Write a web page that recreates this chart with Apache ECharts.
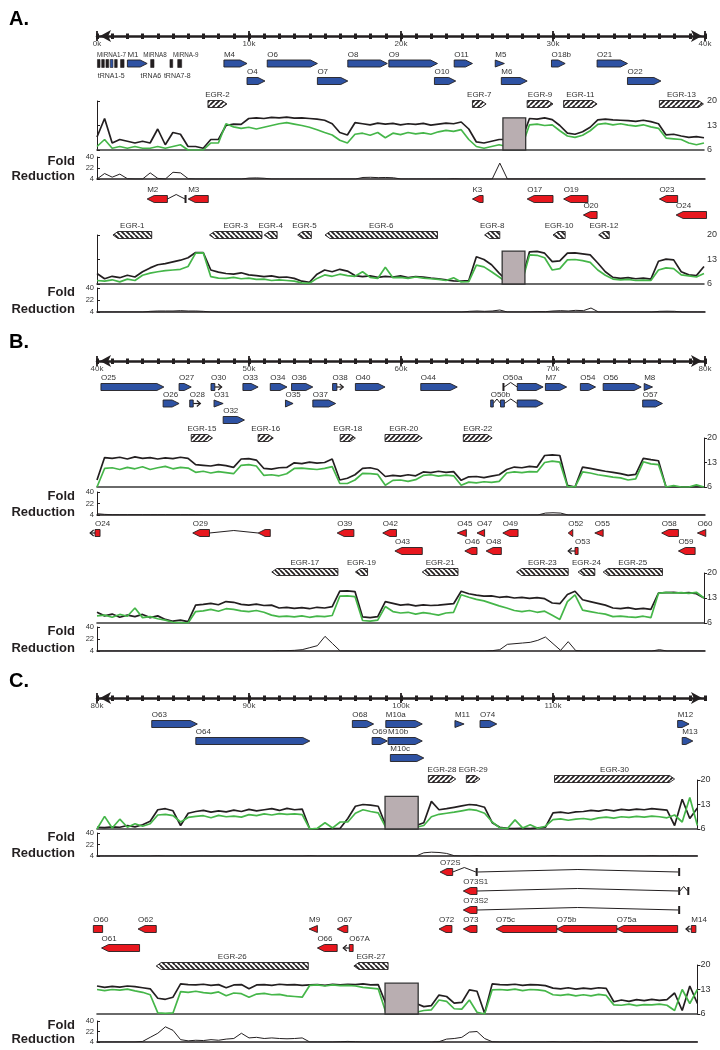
<!DOCTYPE html>
<html>
<head>
<meta charset="utf-8">
<script src="https://cdn.jsdelivr.net/npm/echarts/dist/echarts.min.js"></script>
<style>
  html, body { margin: 0; padding: 0; background: #fff; }
  #main { width: 720px; height: 1050px; }
</style>
</head>
<body>
<div id="main"></div>
<script>
// ---------------- data ----------------
const BIN = 500;                    // coverage bin size (bp)
const covTicks = [6, 13, 20];
const foldTicks = [4, 22, 40];
const ticksA = [0, 10000, 20000, 30000, 40000];
const ticksB = [40000, 50000, 60000, 70000, 80000];
const ticksC = [80000, 90000, 100000, 110000];

// forward strand ORFs  (n = name, l = lane, x = exons, lead = promoter arrow end, cut = truncated)
const genesA_fwd = [
  { n: 'M1', l: 0, x: [[2000, 3300]] },
  { n: 'M4', l: 0, x: [[8350, 9870]] },
  { n: 'O6', l: 0, x: [[11200, 14500]] },
  { n: 'O8', l: 0, x: [[16500, 19100]] },
  { n: 'O9', l: 0, x: [[19200, 22400]] },
  { n: 'O11', l: 0, x: [[23500, 24700]] },
  { n: 'M5', l: 0, x: [[26200, 26800]] },
  { n: 'O18b', l: 0, x: [[29900, 30800]] },
  { n: 'O21', l: 0, x: [[32900, 34900]] },
  { n: 'O4', l: 1, x: [[9870, 11050]] },
  { n: 'O7', l: 1, x: [[14500, 16500]] },
  { n: 'O10', l: 1, x: [[22200, 23600]] },
  { n: 'M6', l: 1, x: [[26600, 28300]] },
  { n: 'O22', l: 1, x: [[34900, 37100]] }
];
// small RNA genes (t = tRNA, m = miRNA)
const rnaA = [[30, 200, 't'], [310, 480, 't'], [590, 770, 't'], [870, 1050, 'm'], [1160, 1330, 't'],
  [1550, 1780, 't'], [3530, 3750, 't'], [4800, 4980, 't'], [5310, 5570, 't']];
const rnaLabelsA = [['MiRNA1-7', 0, 1], ['MiRNA8', 3050, 1], ['MiRNA-9', 5000, 1],
  ['tRNA1-5', 50, -1], ['tRNA6', 2870, -1], ['tRNA7-8', 4400, -1]];

const genesA_rev = [
  { n: 'M2', l: 0, x: [[3300, 4630], [5790, 5860]] },
  { n: 'M3', l: 0, x: [[6000, 7320]] },
  { n: 'K3', l: 0, x: [[24700, 25400]] },
  { n: 'O17', l: 0, x: [[28300, 30000]] },
  { n: 'O19', l: 0, x: [[30700, 32300]] },
  { n: 'O23', l: 0, x: [[37000, 38200]] },
  { n: 'O20', l: 1, x: [[32000, 32900]] },
  { n: 'O24', l: 1, x: [[38100, 40100]] }
];
const genesB_fwd = [
  { n: 'O25', l: 0, x: [[40260, 44400]] },
  { n: 'O27', l: 0, x: [[45400, 46200]] },
  { n: 'O30', l: 0, x: [[47500, 47750]], lead: 48200 },
  { n: 'O33', l: 0, x: [[49600, 50600]] },
  { n: 'O34', l: 0, x: [[51400, 52500]] },
  { n: 'O36', l: 0, x: [[52800, 54200]] },
  { n: 'O38', l: 0, x: [[55500, 55780]], lead: 56200 },
  { n: 'O40', l: 0, x: [[57000, 58950]] },
  { n: 'O44', l: 0, x: [[61300, 63700]] },
  { n: 'O50a', l: 0, x: [[66700, 66780], [67650, 69350]] },
  { n: 'M7', l: 0, x: [[69500, 70900]] },
  { n: 'O54', l: 0, x: [[71800, 72800]] },
  { n: 'O56', l: 0, x: [[73300, 75800]] },
  { n: 'M8', l: 0, x: [[76000, 76550]] },
  { n: 'O26', l: 1, x: [[44350, 45400]] },
  { n: 'O28', l: 1, x: [[46100, 46330]], lead: 46800 },
  { n: 'O31', l: 1, x: [[47700, 48300]] },
  { n: 'O35', l: 1, x: [[52400, 52900]] },
  { n: 'O37', l: 1, x: [[54200, 55700]] },
  { n: 'O50b', l: 1, x: [[65900, 66070], [66550, 66800], [67650, 69350]] },
  { n: 'O57', l: 1, x: [[75900, 77200]] },
  { n: 'O32', l: 2, x: [[48300, 49700]] }
];
const genesB_rev = [
  { n: 'O24', l: 0, x: [[39870, 40200]], lead: 39550 },
  { n: 'O29', l: 0, x: [[46300, 47400], [50600, 51400]] },
  { n: 'O39', l: 0, x: [[55800, 56900]] },
  { n: 'O42', l: 0, x: [[58800, 59700]] },
  { n: 'O45', l: 0, x: [[63700, 64300]] },
  { n: 'O47', l: 0, x: [[65000, 65500]] },
  { n: 'O49', l: 0, x: [[66700, 67700]] },
  { n: 'O52', l: 0, x: [[71000, 71300]] },
  { n: 'O55', l: 0, x: [[72750, 73300]] },
  { n: 'O58', l: 0, x: [[77150, 78250]] },
  { n: 'O60', l: 0, x: [[79500, 80050]] },
  { n: 'O43', l: 1, x: [[59600, 61400]] },
  { n: 'O46', l: 1, x: [[64200, 65000]] },
  { n: 'O48', l: 1, x: [[65600, 66600]] },
  { n: 'O53', l: 1, x: [[71450, 71650]], lead: 71000 },
  { n: 'O59', l: 1, x: [[78250, 79350]] }
];
const genesC_fwd = [
  { n: 'O63', l: 0, x: [[83600, 86600]] },
  { n: 'O68', l: 0, x: [[96800, 98200]] },
  { n: 'M10a', l: 0, x: [[99000, 101400]] },
  { n: 'M11', l: 0, x: [[103550, 104150]] },
  { n: 'O74', l: 0, x: [[105200, 106300]] },
  { n: 'M12', l: 0, x: [[118200, 118950]] },
  { n: 'O64', l: 1, x: [[86500, 94000]] },
  { n: 'O69', l: 1, x: [[98100, 99100]] },
  { n: 'M10b', l: 1, x: [[99150, 101400]] },
  { n: 'M13', l: 1, x: [[118500, 119200]] },
  { n: 'M10c', l: 2, x: [[99300, 101500]] }
];
const genesC_rev = [
  { n: 'O72S', l: 0, x: [[102570, 103400], [104930, 105030], [118250, 118350]] },
  { n: 'O73S1', l: 1, x: [[104100, 105000], [118250, 118350], [118850, 118950]] },
  { n: 'O73S2', l: 2, x: [[104100, 105000], [118250, 118350]] },
  { n: 'O60', l: 3, x: [[79760, 80370]], cut: 1 },
  { n: 'O62', l: 3, x: [[82700, 83900]] },
  { n: 'M9', l: 3, x: [[93950, 94500]] },
  { n: 'O67', l: 3, x: [[95800, 96500]] },
  { n: 'O72', l: 3, x: [[102500, 103350]] },
  { n: 'O73', l: 3, x: [[104100, 105000]] },
  { n: 'O75c', l: 3, x: [[106250, 110250]] },
  { n: 'O75b', l: 3, x: [[110250, 114200]] },
  { n: 'O75a', l: 3, x: [[114200, 118200]] },
  { n: 'M14', l: 3, x: [[119100, 119400]], lead: 118750 },
  { n: 'O61', l: 4, x: [[80300, 82800]] },
  { n: 'O66', l: 4, x: [[94500, 95800]] },
  { n: 'O67A', l: 4, x: [[96600, 96850]], lead: 96200 }
];

// early growth regions
const egrA_fwd = [['EGR-2', 7300, 8550], ['EGR-7', 24700, 25600], ['EGR-9', 28300, 30000], ['EGR-11', 30700, 32900], ['EGR-13', 37000, 39900]];
const egrA_rev = [['EGR-1', 1050, 3600], ['EGR-3', 7400, 10850], ['EGR-4', 11000, 11850], ['EGR-5', 13200, 14100],
  ['EGR-6', 15000, 22400], ['EGR-8', 25500, 26500], ['EGR-10', 30000, 30800], ['EGR-12', 33000, 33700]];
const egrB_fwd = [['EGR-15', 46200, 47600], ['EGR-16', 50600, 51600], ['EGR-18', 56000, 57000], ['EGR-20', 58950, 61400], ['EGR-22', 64100, 66000]];
const egrB_rev = [['EGR-17', 51500, 55850], ['EGR-19', 57000, 57800], ['EGR-21', 61400, 63750], ['EGR-23', 67600, 71000],
  ['EGR-24', 71650, 72750], ['EGR-25', 73300, 77200]];
const egrC_fwd = [['EGR-28', 101800, 103600], ['EGR-29', 104300, 105200], ['EGR-30', 110100, 118000]];
const egrC_rev = [['EGR-26', 83900, 93900], ['EGR-27', 96900, 99150]];

// masked repeat regions [start, end, height]
const maskA_fwd = [26750, 28250, 15.2];
const maskA_rev = [26700, 28200, 15.4];
const maskC_fwd = [98950, 101130, 15.3];
const maskC_rev = [98950, 101130, 14.8];

// coverage (k = black, g = green), one value per 500 bp
const covA_fwd_k = [
  9.7, 15, 8, 9, 8.5, 8, 8.5, 8, 12, 7.5,
  11, 10.5, 7, 7, 6.5, 9, 9, 13, 13.4, 13.3,
  15, 15.2, 15, 15.3, 15.2, 15.4, 15.1, 15.2, 15, 14.8,
  14.5, 13.5, 11, 10.3, 13.8, 13.5, 13.2, 13.7, 13.4, 13.6,
  13.2, 13.5, 13.3, 13.6, 13.1, 13.4, 13.7, 13.5, 14, 12,
  8.3, 8, 8.5, 9, 9, 9, 9, 15, 14.8, 15.2,
  14.7, 13, 10.8, 10.5, 11.2, 12.5, 14.6, 14.8, 14.6, 14.5,
  14.4, 14.2, 14.5, 14.1, 13.5, 10.3, 10.5, 10, 9.6, 9.8,
  9.5];
const covA_fwd_g = [
  7, 9, 6.5, 7, 6.5, 7, 6.5, 6.5, 7, 6.5,
  7, 7.5, 6, 6, 6, 8, 8, 13.5, 12.6, 12.2,
  12.5, 12, 12.5, 13, 13.5, 13.8, 13.4, 13, 12.5, 11.8,
  11, 10.3, 8.8, 8, 10.5, 10.8, 10.2, 11, 9.5, 10.8,
  10.4, 11, 10.6, 10.9, 10.5, 11.2, 11.6, 11.3, 11.8, 9,
  7, 6.5, 7, 7.5, 7, 7, 7, 13.2, 13.4, 13,
  13.2, 11.5, 10, 9.6, 10.2, 11.5, 13.3, 13.6, 13.2, 13.5,
  13.1, 12.8, 13.2, 12.6, 12.2, 9.4, 9.2, 9, 8, 7.5,
  8];
const foldA_fwd = [
  4, 13, 7, 12, 4.5, 4, 4, 14, 5, 4,
  15, 14, 4.5, 4, 4, 4, 4, 4, 4, 4,
  5.5, 5.8, 5.2, 4, 4, 4, 4, 4, 4, 4,
  4, 4, 4, 4, 4, 6.5, 6.8, 6.2, 6.5, 6,
  4, 4, 4, 4, 4, 4, 4, 4.5, 4, 4,
  4, 4, 4, 30, 4, 4, 4, 4, 4, 4,
  4, 4, 4, 4, 4, 4, 4, 4, 4, 4,
  4, 4, 4, 4, 4, 4, 4, 4, 4, 4,
  4];
const covA_rev_k = [
  9, 7.5, 8.2, 7.8, 8.5, 8, 9.5, 10.6, 11.5, 11.8,
  12.3, 12.8, 13.5, 15, 15, 10, 9.4, 9, 8.8, 9.2,
  8.6, 8.4, 8.1, 8.3, 7.9, 8, 7.6, 6.8, 6.5, 8.8,
  10, 9.5, 10.2, 9.7, 8.4, 8.1, 8.3, 7.9, 8.2, 8,
  8.3, 7.8, 8.1, 8, 7.7, 7.5, 7.2, 6.9, 6.8, 7,
  13.8, 13, 11.5, 9.1, 7, 7, 7, 15.2, 15.3, 14.8,
  12.4, 12.6, 14.8, 14.9, 14.6, 14.3, 12, 9.5, 7.9, 7.6,
  7.8, 7.5, 7.7, 7.4, 12.5, 13.1, 12.9, 9.5, 8.6, 8.4,
  11];
const covA_rev_g = [
  7, 6.8, 7.2, 6.6, 7.4, 7, 8.5, 9.1, 9.5, 9.8,
  10, 10.2, 11, 14.8, 14.9, 8.1, 7.7, 7.6, 7.9, 7.5,
  7.7, 7.3, 7.4, 7, 7.2, 7, 6.8, 6.3, 6.2, 7.6,
  8.6, 8.2, 8.8, 8.4, 8.2, 9.5, 7.9, 7.6, 10.8, 7.8,
  7.9, 7.6, 8, 7.7, 7.5, 7.3, 7, 7.8, 6.6, 6.7,
  11.4, 10.9, 9.5, 8, 6.5, 6.5, 6.5, 14.3, 14.2, 13.5,
  10, 10.4, 12.9, 13, 12.7, 12.2, 10, 8.5, 7.4, 7.2,
  7.3, 7, 7.1, 7, 10, 10.6, 10.4, 8.6, 8.3, 8,
  9];
const foldA_rev = [
  4, 4, 4, 4, 4, 4, 4, 5, 5.5, 5.5,
  5.5, 6, 5.5, 5.5, 5, 4, 4, 4, 4, 4,
  4, 4, 4, 4, 4, 4, 4, 4, 4, 4,
  4, 4, 4, 4, 4, 4, 4, 4, 4, 4,
  4, 4, 4, 4, 4, 4, 4, 4, 4, 5,
  5.5, 5, 5.5, 7, 4, 4, 4, 4, 4.5, 4.5,
  5.5, 6, 5.5, 6.5, 6, 10, 4, 4, 4, 4,
  4, 4, 4, 4, 5, 5.2, 5, 4, 4, 4,
  4];
const covB_fwd_k = [
  8, 14.4, 14.2, 14.5, 14, 14.6, 14.2, 14.4, 14, 14.3,
  14.1, 14.5, 14.2, 12.4, 12.2, 12, 12.4, 12.1, 11.6, 14,
  14.1, 13.7, 11.3, 11.1, 11.5, 11.6, 12.9, 12.7, 13.1, 12.8,
  13, 14, 8, 8.5, 9.5, 11.3, 11.5, 11, 9, 9.3,
  9.1, 9.5, 9.2, 10.3, 10.1, 10.5, 10.2, 10.4, 7.9, 8.9,
  9, 8.7, 9.1, 9.5, 11, 11.7, 11.5, 11.9, 11.7, 15,
  15.2, 15, 6.5, 6, 11.7, 11.3, 10.9, 10.5, 10.2, 9.8,
  9.3, 9.6, 14.2, 13.8, 13.5, 6, 6, 6, 6, 6,
  6];
const covB_fwd_g = [
  6, 11.3, 11.5, 11, 11.6, 11.2, 11.8, 11, 11.5, 11.9,
  11.2, 11.6, 11.4, 10.2, 10.5, 10, 10.4, 10.1, 9.8, 12.2,
  12.4, 12, 9.3, 9.5, 9.2, 9.8, 11.3, 11.4, 11.2, 11,
  11.3, 11.8, 7, 7, 8, 9.9, 9.8, 9.6, 6.5, 7.9,
  8, 7.6, 8.1, 9.3, 9.5, 9.1, 9.4, 9.2, 6.5, 7.4,
  7.2, 7.5, 7.3, 7.6, 10, 10.3, 10.1, 10.4, 10.3, 13,
  13.4, 13.1, 6.2, 6, 10.3, 10, 9.5, 9.2, 8.8, 8.6,
  8, 8.3, 13.2, 12.6, 12.4, 6, 6.4, 6, 6, 6.6,
  6];
const foldB_fwd = [
  6, 5, 4.5, 4.5, 4.5, 4.5, 4.5, 4.5, 4.5, 4.5,
  4.5, 4.5, 4.5, 4.5, 4, 4, 4, 4, 4, 4,
  4, 4, 4, 4, 4, 4, 4, 4, 4, 4,
  4, 4, 4, 4, 4, 4, 4, 4, 4, 4,
  4, 4, 4, 4, 4, 4, 4, 4, 4, 4,
  4, 4, 4, 4, 4, 4, 4, 4, 4, 7,
  7.5, 7, 4, 4, 4, 4, 4, 4, 4, 4,
  4, 4, 4, 4, 4, 4, 4, 4, 4, 4,
  4];
const covB_rev_k = [
  9, 8, 8.5, 7.6, 8.2, 7.8, 8.4, 7.5, 8, 7,
  6.5, 6.8, 6.4, 11, 11.2, 11.5, 11.1, 12, 11.8, 11.2,
  11, 11.3, 10.9, 11, 10.2, 10.4, 10.1, 10.3, 10, 10.4,
  10.2, 10.6, 14.9, 15, 14.8, 7.7, 7.5, 7.8, 12, 11.5,
  11, 11.2, 10.8, 11.1, 10.9, 11, 11.2, 11.4, 14.9, 14.2,
  13.8, 13.5, 13.6, 13.2, 13.4, 13, 13.2, 12.9, 13.1, 12.8,
  11.6, 11.4, 14, 14.9, 12.5, 12, 11.5, 11, 10.2, 10,
  10.3, 9.9, 10.1, 9.8, 14.4, 14.5, 14.6, 14.4, 14.5, 14.2,
  13];
const covB_rev_g = [
  8, 8.2, 7.6, 8.4, 7.9, 10.2, 7.5, 7.8, 7.2, 6.8,
  6.2, 6.1, 6, 9.2, 9.4, 9.8, 9.3, 10, 9.8, 9.4,
  9.2, 9.5, 9, 8.2, 7.8, 7.9, 7.7, 8, 7.6, 7.9,
  7.8, 8.1, 13.5, 13.6, 13.4, 6.7, 6.5, 6.8, 10.6, 9.2,
  8.8, 9, 8.5, 8.9, 8.6, 8.2, 8.8, 9, 13.9, 13.2,
  12.6, 12.2, 11.5, 10.8, 10.2, 9.5, 9.2, 9.5, 9, 9.3,
  8.2, 7, 12, 13.9, 9.6, 9.2, 8.8, 8.5, 7.8, 7.9,
  7.7, 7.6, 7.9, 7.5, 14.3, 14.6, 14.4, 14.5, 14.3, 14.6,
  13];
const foldB_rev = [
  4, 4, 4, 4, 4, 4, 4, 4, 4, 4,
  4, 4, 4, 4, 4, 4, 4, 4, 4, 4,
  4, 4, 4, 4, 4.5, 4.5, 5, 6, 9, 12,
  26, 15, 4, 4, 4, 4, 4, 4, 4, 4,
  4, 4, 4, 4, 4, 4, 4, 4, 4, 4,
  4, 4, 4.5, 6, 14, 15, 16, 17, 20, 25,
  15, 5, 18, 4.5, 4, 4, 4, 4, 4, 4,
  4, 4, 4, 4, 6, 4, 4, 4, 4, 4,
  4];
const covC_fwd_k = [
  6.5, 6.4, 6.6, 6.5, 7, 6.6, 7.2, 8.2, 11.5, 11.8,
  11.2, 7, 10.5, 11, 11.3, 10.8, 11.2, 10.9, 11.4, 11,
  11.6, 11.2, 11.5, 11.8, 11.3, 11.9, 11.5, 11.7, 6, 6,
  6, 6.1, 6.2, 9, 12.5, 13, 12.8, 12.5, 7, 7,
  7, 7, 7, 7.8, 13.9, 11.5, 11.8, 12.2, 12.6, 13,
  12.8, 12.2, 7.8, 6.5, 6.2, 6.1, 6.2, 6.1, 6.3, 6.5,
  10.6, 10.8, 10.5, 10.9, 11, 11.3, 11.1, 11.5, 11.2, 11.6,
  11.4, 11.7, 11.5, 11.8, 11.6, 11.4, 7, 14.5, 9, 12];
const covC_fwd_g = [
  6, 9.6, 6.3, 8.8, 6.5, 7.5, 6.8, 7.5, 10, 10.2,
  9.8, 8, 9.3, 9.6, 9.8, 9.2, 9.9, 9.5, 9.7, 9.4,
  10.1, 9.8, 10.3, 10, 10.4, 10.2, 10.3, 10.1, 6, 6.2,
  7.8, 6.3, 8, 8, 10.5, 11.5, 11, 10.6, 6.5, 6.5,
  6.5, 6.5, 6.5, 7, 9.5, 10.2, 10.5, 10.8, 11.2, 11.6,
  11.3, 10.5, 8, 6.3, 6.1, 8.6, 6.3, 7.2, 6.2, 6.8,
  8.7, 8.9, 8.5, 8.8, 9, 8.7, 9.2, 9.4, 9.1, 9.5,
  9.3, 9.6, 9.4, 9.7, 9.5, 9.2, 10, 8, 15, 7];
const foldC_fwd = [
  4, 4, 4, 4, 4, 4, 4, 4, 4.5, 4,
  4, 4, 4, 4, 4, 4, 4, 4, 4, 4,
  4, 4, 4, 4, 4, 4, 4, 4, 4.5, 4,
  4, 4, 4, 4, 4, 4, 4, 4, 4, 4,
  4, 4, 4, 9, 10, 9.5, 8, 4.5, 4, 4,
  4.5, 4, 4, 4, 4, 4, 4, 4, 4, 4,
  4.5, 4, 4, 4, 4, 4, 4.5, 4, 4, 4,
  4, 4, 4, 4.5, 4, 4, 4.5, 4, 4, 4];
const covC_rev_k = [
  14, 13.6, 13.9, 13.7, 14, 13.8, 13.5, 13.2, 10.5, 10.2,
  10.8, 14.6, 14.4, 14.3, 14.5, 14.2, 14.4, 13.5, 14.3, 14.4,
  13.2, 14.3, 14.4, 14.2, 14.5, 14.3, 14.4, 14.2, 14.3, 14.4,
  14.2, 14.5, 14.3, 14.5, 14.4, 14.6, 14.3, 14.4, 9, 9,
  9, 9, 9, 8.1, 8.4, 11.4, 11, 9.1, 9.3, 12.9,
  12.5, 6.2, 14.6, 14.4, 14.3, 14.5, 14.2, 14.4, 14.3, 14.1,
  13.4, 13.2, 13.5, 13.1, 13.4, 13.2, 13.5, 13.3, 9.5, 10,
  9.6, 10.1, 9.8, 10.2, 9.9, 10.1, 12, 7, 14, 9];
const covC_rev_g = [
  13, 12.7, 13, 12.8, 13.1, 12.6, 12.2, 11.5, 6.3, 6.2,
  6.3, 12.4, 12.2, 12.5, 12.1, 11.9, 12.3, 11.2, 12, 11.8,
  10.8, 11.7, 11.9, 11.5, 11.6, 11.2, 11, 10.8, 14.2, 14.3,
  14, 14.3, 14.1, 14.2, 14, 13.6, 13.4, 13.2, 6.5, 6.5,
  6.5, 6.5, 6.5, 7, 7.2, 10, 9.6, 7.5, 7.4, 10,
  6.5, 6, 12.9, 13, 12.8, 13.1, 12.7, 13, 12.9, 12.6,
  11.5, 11.3, 11.6, 11.2, 11.5, 11.2, 11.6, 11.3, 8.6, 8.5,
  8.8, 8.4, 8.7, 8.6, 8.8, 8.5, 7, 13, 9, 13];
const foldC_rev = [
  4, 4, 4, 4, 4, 4, 5, 12, 19, 30,
  24, 8, 6, 7, 6.5, 8, 7, 9, 10, 19,
  11, 12, 10, 11, 10, 9.5, 10, 11, 4, 4,
  4, 4, 4.5, 5, 4.5, 4, 4, 4, 4, 4,
  4, 4, 4, 4, 4, 4.5, 9, 10, 12, 21,
  22, 10, 4.5, 4, 4, 4, 4, 4, 4, 4,
  4.5, 4, 4, 4.5, 4, 4, 4.5, 4, 4, 4.5,
  4, 4, 4.5, 4, 4, 4, 4.5, 4, 4, 4];

// ---------------- layout / style ----------------
const X0 = 97, PX = 15.2 / 1000;
const FONT = "'Liberation Sans', Arial, sans-serif";
const INK = '#231f20', TEXT = '#333333', BLUE = '#2e52a3', RED = '#e8171e', GREEN = '#45b649', MASK = '#b9aeb1';

const panels = [
  { tag: 'A.', tagY: 19, off: 0, end: 40000, axisY: 36, ticks: ticksA, rna: true,
    fwd: { genes: genesA_fwd, c0: 63.5, step: 17.5, lanes: 2, egr: egrA_fwd, egrY: 104, cov: [101, 150], fold: [157, 179], k: covA_fwd_k, g: covA_fwd_g, f: foldA_fwd, mask: maskA_fwd },
    rev: { genes: genesA_rev, c0: 199, step: 16, lanes: 2, egr: egrA_rev, egrY: 235, cov: [235, 284], fold: [288, 312], k: covA_rev_k, g: covA_rev_g, f: foldA_rev, mask: maskA_rev } },
  { tag: 'B.', tagY: 342, off: 40000, end: 80000, axisY: 361, ticks: ticksB,
    fwd: { genes: genesB_fwd, c0: 387, step: 16.5, lanes: 3, egr: egrB_fwd, egrY: 438, cov: [438, 487], fold: [492, 515], k: covB_fwd_k, g: covB_fwd_g, f: foldB_fwd },
    rev: { genes: genesB_rev, c0: 533, step: 18, lanes: 2, egr: egrB_rev, egrY: 572, cov: [573, 623], fold: [627, 651], k: covB_rev_k, g: covB_rev_g, f: foldB_rev } },
  { tag: 'C.', tagY: 681, off: 80000, end: 119500, axisY: 698, ticks: ticksC,
    fwd: { genes: genesC_fwd, c0: 724, step: 17, lanes: 3, egr: egrC_fwd, egrY: 779, cov: [780, 829], fold: [833, 856], k: covC_fwd_k, g: covC_fwd_g, f: foldC_fwd, mask: maskC_fwd },
    rev: { genes: genesC_rev, c0: 872, step: 19, lanes: 5, egr: egrC_rev, egrY: 966, cov: [965, 1014], fold: [1021, 1042], k: covC_rev_k, g: covC_rev_g, f: foldC_rev, mask: maskC_rev } }
];

function hatch(forward) {
  const s = 5, c = document.createElement('canvas');
  c.width = s; c.height = s;
  const g = c.getContext('2d');
  g.fillStyle = '#fff'; g.fillRect(0, 0, s, s);
  g.strokeStyle = INK; g.lineWidth = 1.7;
  g.beginPath();
  for (let k = -1; k <= 1; k++) {
    if (forward) { g.moveTo(k * s, s); g.lineTo(k * s + s, 0); }
    else { g.moveTo(k * s, 0); g.lineTo(k * s + s, s); }
  }
  g.stroke();
  return c;
}
const hatchFwd = hatch(true), hatchRev = hatch(false);

const grid = [], xAxis = [], yAxis = [], series = [], graphic = [];
const off = { show: false };
const LABEL_FONT = '8px ' + FONT;

function addCartesian(top, height, min, max, xo, yo) {
  const gi = grid.length;
  grid.push({ left: X0, top: top, height: height, width: (max - min) * PX });
  const xi = xAxis.length;
  xAxis.push(Object.assign({ type: 'value', gridIndex: gi, min: min, max: max, axisLine: off, axisTick: off, axisLabel: off, splitLine: off }, xo || {}));
  const yi = yAxis.length;
  yAxis.push(Object.assign({ type: 'value', gridIndex: gi, axisLine: off, axisTick: off, axisLabel: off, splitLine: off }, yo || {}));
  return { gi: gi, xi: xi, yi: yi };
}

function geneItem(g, api, color, strand) {
  const h = 7, kids = [];
  const y = api.coord([g.x[0][0], g.l])[1];
  const px = g.x.map(e => [api.coord([e[0], g.l])[0], api.coord([e[1], g.l])[0]]);
  for (let i = 1; i < px.length; i++) {
    const a = px[i - 1][1], b = px[i][0];
    const rise = b - a > 40 ? 2.5 : 4.5;
    kids.push({ type: 'polyline', shape: { points: [[a, y], [(a + b) / 2, y - rise], [b, y]] }, style: { stroke: INK, lineWidth: 1, fill: null } });
  }
  if (g.lead != null) {
    const L = api.coord([g.lead, g.l])[0];
    const s = strand > 0 ? px[px.length - 1][1] : px[0][0];
    const d = strand > 0 ? -3.5 : 3.5;
    kids.push({ type: 'polyline', shape: { points: [[s, y], [L, y]] }, style: { stroke: INK, lineWidth: 1.2, fill: null } });
    kids.push({ type: 'polyline', shape: { points: [[L + d, y - 3], [L, y], [L + d, y + 3]] }, style: { stroke: INK, lineWidth: 1.2, fill: null } });
  }
  px.forEach(([a, b], i) => {
    const w = b - a;
    if (w < 2.5) {
      kids.push({ type: 'rect', shape: { x: (a + b) / 2 - 1, y: y - h / 2 - 0.5, width: 2, height: h + 1 }, style: { fill: INK } });
      return;
    }
    const terminal = strand > 0 ? i === px.length - 1 : i === 0;
    const pointed = g.lead == null && !g.cut && (terminal || w >= 8);
    let pts;
    if (!pointed) {
      pts = [[a, y - h / 2], [b, y - h / 2], [b, y + h / 2], [a, y + h / 2]];
    } else {
      const t = w <= 10 ? w : 7;
      pts = strand > 0
        ? [[a, y - h / 2], [b - t, y - h / 2], [b, y], [b - t, y + h / 2], [a, y + h / 2]]
        : [[b, y - h / 2], [a + t, y - h / 2], [a, y], [a + t, y + h / 2], [b, y + h / 2]];
    }
    kids.push({ type: 'polygon', shape: { points: pts }, style: { fill: color, stroke: INK, lineWidth: 0.9 } });
  });
  kids.push({ type: 'text', style: { text: g.n, x: px[0][0], y: y - h / 2 - 1.5, fill: TEXT, font: LABEL_FONT, align: 'left', verticalAlign: 'bottom' } });
  return { type: 'group', children: kids };
}

function egrItem(e, api, strand) {
  const h = 7, t = 5;
  const p1 = api.coord([e[1], 0]), p2 = api.coord([e[2], 0]);
  const a = p1[0], b = p2[0], y = p1[1];
  const pts = strand > 0
    ? [[a, y - h / 2], [b - t, y - h / 2], [b, y], [b - t, y + h / 2], [a, y + h / 2]]
    : [[b, y - h / 2], [a + t, y - h / 2], [a, y], [a + t, y + h / 2], [b, y + h / 2]];
  return { type: 'group', children: [
    { type: 'polygon', shape: { points: pts }, style: { fill: { image: strand > 0 ? hatchFwd : hatchRev, repeat: 'repeat' }, stroke: INK, lineWidth: 0.9 } },
    { type: 'text', style: { text: e[0], x: (a + b) / 2, y: y - h / 2 - 1.5, fill: TEXT, font: LABEL_FONT, align: 'center', verticalAlign: 'bottom' } }
  ] };
}

function strandTracks(p, s, strand) {
  const color = strand > 0 ? BLUE : RED;
  // genes
  const gc = addCartesian(s.c0 - s.step / 2, s.lanes * s.step, p.off, p.off + 40000, {}, { min: -0.5, max: s.lanes - 0.5, inverse: true });
  series.push({
    type: 'custom', xAxisIndex: gc.xi, yAxisIndex: gc.yi, silent: true, z: 4,
    data: s.genes.map(g => [g.x[0][0], g.x[g.x.length - 1][1], g.l]),
    encode: { x: [0, 1], y: 2 },
    renderItem: (params, api) => geneItem(s.genes[params.dataIndex], api, color, strand)
  });
  if (strand > 0 && p.rna) {
    series.push({
      type: 'custom', xAxisIndex: gc.xi, yAxisIndex: gc.yi, silent: true, z: 4,
      data: rnaA.map(r => [r[0], r[1], 0]),
      encode: { x: [0, 1], y: 2 },
      renderItem: (params, api) => {
        const r = rnaA[params.dataIndex];
        const a = api.coord([r[0], 0]), b = api.coord([r[1], 0]);
        return { type: 'rect', shape: { x: a[0], y: a[1] - 4, width: b[0] - a[0], height: 8 },
          style: { fill: r[2] === 'm' ? BLUE : INK, stroke: INK, lineWidth: 0.6 } };
      }
    });
    series.push({
      type: 'custom', xAxisIndex: gc.xi, yAxisIndex: gc.yi, silent: true, z: 4,
      data: rnaLabelsA.map(r => [r[1], 0]),
      encode: { x: 0, y: 1 },
      renderItem: (params, api) => {
        const r = rnaLabelsA[params.dataIndex];
        const c = api.coord([r[1], 0]);
        return { type: 'text', style: { text: r[0], x: c[0], y: r[2] > 0 ? c[1] - 5 : c[1] + 9, fill: TEXT,
          font: (r[2] > 0 ? '6.3px ' : '7px ') + FONT, align: 'left', verticalAlign: r[2] > 0 ? 'bottom' : 'top' } };
      }
    });
  }
  // EGRs
  const ec = addCartesian(s.egrY - 5, 10, p.off, p.off + 40000, {}, { min: -0.5, max: 0.5, inverse: true });
  series.push({
    type: 'custom', xAxisIndex: ec.xi, yAxisIndex: ec.yi, silent: true, z: 4,
    data: s.egr.map(e => [e[1], e[2], 0]),
    encode: { x: [0, 1], y: 2 },
    renderItem: (params, api) => egrItem(s.egr[params.dataIndex], api, strand)
  });
  // coverage
  const cc = addCartesian(s.cov[0], s.cov[1] - s.cov[0], p.off, p.end,
    { axisLine: { show: true, onZero: false, lineStyle: { color: '#3a3a3a', width: 1.6 } } },
    { position: 'right', min: 6, max: 20,
      axisLine: { show: true, lineStyle: { color: INK, width: 1 } },
      axisTick: { show: true, length: 3, customValues: covTicks, lineStyle: { color: INK, width: 1 } },
      axisLabel: { show: true, customValues: covTicks, fontSize: 9, color: TEXT, margin: 3, fontFamily: FONT } });
  const pts = arr => arr.map((v, i) => [p.off + i * BIN, v]);
  series.push({ type: 'line', xAxisIndex: cc.xi, yAxisIndex: cc.yi, data: pts(s.k), showSymbol: false, symbol: 'none', silent: true, z: 2,
    lineStyle: { color: INK, width: 1.7 }, itemStyle: { color: INK } });
  series.push({ type: 'line', xAxisIndex: cc.xi, yAxisIndex: cc.yi, data: pts(s.g), showSymbol: false, symbol: 'none', silent: true, z: 3,
    lineStyle: { color: GREEN, width: 1.7 }, itemStyle: { color: GREEN } });
  if (s.mask) {
    series.push({
      type: 'custom', xAxisIndex: cc.xi, yAxisIndex: cc.yi, silent: true, z: 5,
      data: [s.mask], encode: { x: [0, 1], y: 2 },
      renderItem: (params, api) => {
        const a = api.coord([api.value(0), api.value(2)]), b = api.coord([api.value(1), 6]);
        return { type: 'rect', shape: { x: a[0], y: a[1], width: b[0] - a[0], height: b[1] - a[1] },
          style: { fill: MASK, stroke: '#333', lineWidth: 1.3 } };
      }
    });
  }
  // fold reduction
  const fc = addCartesian(s.fold[0], s.fold[1] - s.fold[0], p.off, p.end,
    { axisLine: { show: true, onZero: false, lineStyle: { color: INK, width: 1.5 } } },
    { position: 'left', min: 4, max: 40,
      axisLine: { show: true, lineStyle: { color: INK, width: 1 } },
      axisTick: { show: true, inside: true, length: 3, customValues: foldTicks, lineStyle: { color: INK, width: 1 } },
      axisLabel: { show: true, customValues: foldTicks, fontSize: 7.5, color: TEXT, margin: 3, fontFamily: FONT } });
  series.push({ type: 'line', xAxisIndex: fc.xi, yAxisIndex: fc.yi, data: pts(s.f), showSymbol: false, symbol: 'none', silent: true, z: 2,
    lineStyle: { color: INK, width: 1 }, itemStyle: { color: INK } });
  graphic.push({ type: 'text', x: 75, y: s.fold[0] + 4, style: { text: 'Fold', font: 'bold 13px ' + FONT, fill: INK, align: 'right', verticalAlign: 'middle' } });
  graphic.push({ type: 'text', x: 75, y: s.fold[1] - 3, style: { text: 'Reduction', font: 'bold 13px ' + FONT, fill: INK, align: 'right', verticalAlign: 'middle' } });
}

panels.forEach(p => {
  graphic.push({ type: 'text', x: 9, y: p.tagY, style: { text: p.tag, font: 'bold 20px ' + FONT, fill: '#000', align: 'left', verticalAlign: 'middle' } });
  // genome coordinate axis: minor ticks both sides, major ticks + labels
  const min = p.off, max = p.off + 40000;
  const ac = addCartesian(p.axisY - 1, 1, min, max, {
    position: 'bottom', interval: 1000,
    axisLine: { show: true, onZero: false, symbol: ['arrow', 'arrow'], symbolSize: [9, 11], symbolOffset: [3, -3], lineStyle: { color: INK, width: 2.5 } },
    axisTick: { show: true, length: 3, lineStyle: { color: INK, width: 3 } }
  }, { min: 0, max: 1 });
  xAxis.push({ type: 'value', gridIndex: ac.gi, position: 'top', min: min, max: max, interval: 1000,
    axisLine: off, axisTick: { show: true, length: 2.5, lineStyle: { color: INK, width: 3 } }, axisLabel: off, splitLine: off });
  xAxis.push({ type: 'value', gridIndex: ac.gi, position: 'bottom', min: min, max: max,
    axisLine: off, splitLine: off,
    axisTick: { show: true, length: 5, customValues: p.ticks, lineStyle: { color: INK, width: 1.8 } },
    axisLabel: { show: true, customValues: p.ticks, formatter: v => (v / 1000) + 'k', fontSize: 8, color: '#444', margin: 4, fontFamily: FONT,
      showMinLabel: true, showMaxLabel: true } });
  xAxis.push({ type: 'value', gridIndex: ac.gi, position: 'top', min: min, max: max,
    axisLine: off, axisLabel: off, splitLine: off,
    axisTick: { show: true, length: 4, customValues: p.ticks, lineStyle: { color: INK, width: 1.8 } } });
  strandTracks(p, p.fwd, 1);
  strandTracks(p, p.rev, -1);
});

const chart = echarts.init(document.getElementById('main'), null, { renderer: 'canvas', width: 720, height: 1050 });
chart.setOption({
  animation: false,
  backgroundColor: '#fff',
  grid: grid,
  xAxis: xAxis,
  yAxis: yAxis,
  series: series,
  graphic: graphic
});
</script>
</body>
</html>
